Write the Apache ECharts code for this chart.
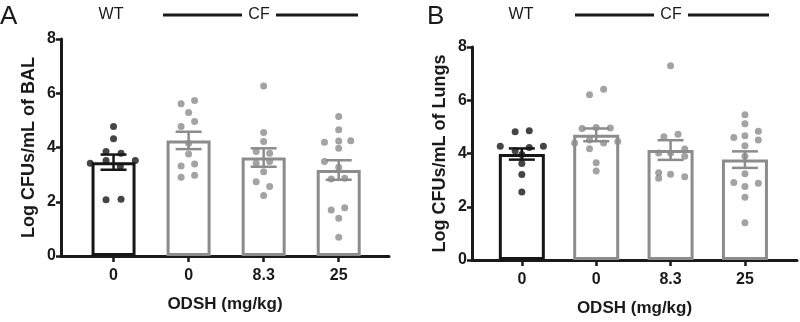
<!DOCTYPE html>
<html lang="en">
<head>
	<meta charset="UTF-8">
	<title>CFU counts</title>
	<script type="text/javascript" src="https://cdn.jsdelivr.net/npm/echarts@6/dist/echarts.min.js"></script>
	<style>
		html, body { margin: 0; padding: 0; background: #fff; }
		#main { width: 800px; height: 322px; }
	</style>
</head>
<body>
	<div id="main"></div>
	<script type="text/javascript">

		// dose labels under the bars
		var xLabels = ['0', '0', '8.3', '25'];

		// panel A : BAL
		var balMean = [3.46, 4.26, 3.63, 3.17];
		var balSem = [0.28, 0.32, 0.34, 0.36];
		// [jitter offset, value]
		var balDots = [
			[[0, 4.77], [0, 4.32], [-0.1, 3.85], [0.1, 3.79], [-0.31, 3.42], [-0.1, 3.52], [0.09, 3.30], [0.29, 3.52], [-0.1, 2.07], [0.1, 2.09]],
			[[-0.1, 5.61], [0.08, 5.73], [0, 5.29], [0.08, 4.96], [-0.1, 4.77], [0, 4.16], [0, 3.76], [-0.1, 3.32], [0.08, 3.39], [-0.1, 2.90], [0.08, 2.98]],
			[[0, 6.27], [0, 4.55], [0, 4.22], [-0.1, 3.85], [0.08, 3.79], [-0.1, 3.42], [0.08, 3.48], [0, 3.11], [-0.1, 2.74], [0.08, 2.56], [0, 2.23]],
			[[0, 5.14], [0, 4.65], [-0.19, 4.19], [0, 4.24], [0.16, 4.25], [0, 3.97], [-0.19, 3.48], [0, 3.27], [-0.1, 2.84], [0.08, 2.87], [-0.1, 1.70], [0.08, 1.78], [0, 1.39], [0, 0.69]]
		];

		// panel B : lungs
		var lungMean = [3.98, 4.70, 4.13, 3.77];
		var lungSem = [0.21, 0.24, 0.37, 0.31];
		var lungDots = [
			[[-0.09, 4.82], [0.1, 4.85], [-0.29, 4.27], [0.29, 4.27], [0.1, 4.23], [-0.09, 4.10], [0, 3.96], [0, 3.62], [0, 3.21], [0, 2.55]],
			[[-0.09, 6.21], [0.1, 6.41], [-0.19, 4.94], [0, 4.98], [0.19, 4.96], [-0.29, 4.39], [0.29, 4.45], [-0.09, 4.51], [0.1, 4.39], [-0.09, 4.18], [0, 3.65], [0, 3.34]],
			[[0, 7.30], [-0.09, 4.63], [0.1, 4.72], [-0.16, 4.02], [0, 4.02], [0.19, 4.17], [0.19, 3.90], [-0.16, 3.28], [-0.16, 3.07], [0, 3.22], [0.19, 3.13]],
			[[0, 5.46], [0, 5.12], [-0.15, 4.60], [0, 4.67], [0.18, 4.84], [0.18, 4.51], [0, 4.29], [0, 3.90], [0, 3.24], [-0.15, 2.91], [0, 2.76], [0.18, 2.88], [0, 2.36], [0, 1.40]]
		];

		var groupColors = ['#161616', '#8c8c8c', '#8c8c8c', '#8c8c8c'];
		var axisColor = '#1a1a1a';
		var fontFam = '"Liberation Sans", Arial, sans-serif';

		var chart = echarts.init(document.getElementById('main'), null, { renderer: 'canvas' });

		var makeXAxis = function (gridIndex, min, max) {
			return {
				type: 'value', gridIndex: gridIndex, min: min, max: max,
				name: 'ODSH (mg/kg)', nameLocation: 'middle', nameGap: 40,
				nameTextStyle: { fontFamily: fontFam, fontWeight: 'bold', fontSize: 17, color: '#1a1a1a' },
				splitLine: { show: false },
				axisLine: { onZero: false, lineStyle: { color: axisColor, width: 3 } },
				axisTick: { customValues: [0, 1, 2, 3], length: 6, lineStyle: { color: axisColor, width: 2.5 } },
				axisLabel: {
					customValues: [0, 1, 2, 3], margin: 12,
					fontFamily: fontFam, fontWeight: 'bold', fontSize: 16, color: '#1a1a1a',
					formatter: function (v) { return xLabels[Math.round(v)]; }
				}
			};
		};

		var makeYAxis = function (gridIndex, title) {
			return {
				type: 'value', gridIndex: gridIndex, min: 0, max: 8, interval: 2,
				name: title, nameLocation: 'middle', nameGap: 23,
				nameTextStyle: { fontFamily: fontFam, fontWeight: 'bold', fontSize: 18, color: '#1a1a1a' },
				splitLine: { show: false },
				axisLine: { show: true, onZero: false, lineStyle: { color: axisColor, width: 3 } },
				axisTick: { show: true, length: 5, lineStyle: { color: axisColor, width: 2.5 } },
				axisLabel: { margin: 5, fontFamily: fontFam, fontWeight: 'bold', fontSize: 16, color: '#1a1a1a' }
			};
		};

		var makeSeries = function (idx, means, sems, dots, barW) {
			var out = [];
			out.push({
				type: 'bar', xAxisIndex: idx, yAxisIndex: idx, barWidth: barW, z: 2,
				silent: true,
				data: means.map(function (m, i) {
					return { value: [i, m], itemStyle: { color: '#fff', borderColor: groupColors[i], borderWidth: 3 } };
				})
			});
			var pts = [];
			dots.forEach(function (g, i) {
				g.forEach(function (d) {
					pts.push({ value: [i + d[0], d[1]], itemStyle: { color: groupColors[i] } });
				});
			});
			out.push({
				type: 'scatter', xAxisIndex: idx, yAxisIndex: idx, symbolSize: 7, z: 3,
				data: pts
			});
			out.push({
				type: 'custom', xAxisIndex: idx, yAxisIndex: idx, z: 4,
				data: means.map(function (m, i) { return [i, m, sems[i]]; }),
				renderItem: function (params, api) {
					var x = api.value(0), m = api.value(1), s = api.value(2);
					var top = api.coord([x, m + s]);
					var bot = api.coord([x, m - s]);
					var half = 13;
					var st = { stroke: groupColors[params.dataIndex], lineWidth: 2.5 };
					return {
						type: 'group',
						children: [
							{ type: 'line', shape: { x1: top[0], y1: top[1], x2: bot[0], y2: bot[1] }, style: st },
							{ type: 'line', shape: { x1: top[0] - half, y1: top[1], x2: top[0] + half, y2: top[1] }, style: st },
							{ type: 'line', shape: { x1: bot[0] - half, y1: bot[1], x2: bot[0] + half, y2: bot[1] }, style: st }
						]
					};
				}
			});
			return out;
		};

		// group header: WT  ---- CF ----
		var header = function (letterX, letter, wtX, lineL, cfX, lineR) {
			var y = 15;
			return [
				{ type: 'text', left: letterX, top: 4, style: { text: letter, font: '26px ' + fontFam, fill: '#1a1a1a' } },
				{ type: 'text', x: wtX, y: y, style: { text: 'WT', font: '16px ' + fontFam, fill: '#1a1a1a', align: 'center', verticalAlign: 'middle' } },
				{ type: 'text', x: cfX, y: y, style: { text: 'CF', font: '16px ' + fontFam, fill: '#1a1a1a', align: 'center', verticalAlign: 'middle' } },
				{ type: 'line', shape: { x1: lineL, y1: y, x2: cfX - 17, y2: y }, style: { stroke: '#1a1a1a', lineWidth: 3 } },
				{ type: 'line', shape: { x1: cfX + 17, y1: y, x2: lineR, y2: y }, style: { stroke: '#1a1a1a', lineWidth: 3 } }
			];
		};

		var option = {
			animation: false,
			grid: [
				{ left: 61, top: 39, width: 328, height: 217 },
				{ left: 472, top: 47, width: 325, height: 217 }
			],
			xAxis: [makeXAxis(0, -0.7, 3.67), makeXAxis(1, -0.67, 3.7)],
			yAxis: [makeYAxis(0, 'Log CFUs/mL of BAL'), makeYAxis(1, 'Log CFUs/mL of Lungs')],
			series: makeSeries(0, balMean, balSem, balDots, 44)
				.concat(makeSeries(1, lungMean, lungSem, lungDots, 46)),
			graphic: header(0, 'A', 111, 163, 259, 358)
				.concat(header(427, 'B', 521, 575, 671, 769))
		};
		chart.setOption(option);
	</script>
</body>
</html>
